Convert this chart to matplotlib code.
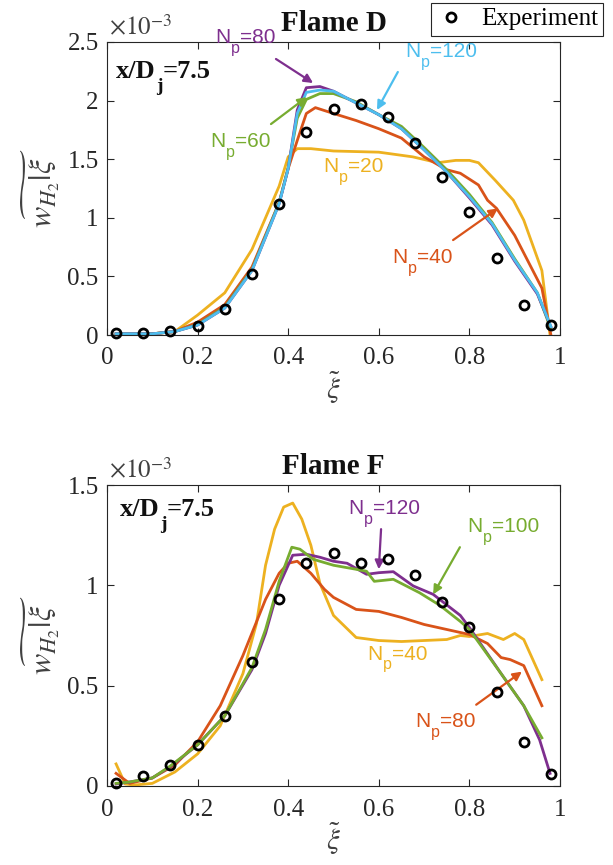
import matplotlib
matplotlib.use("Agg")
import matplotlib.pyplot as plt
from matplotlib.lines import Line2D
from matplotlib.ticker import FuncFormatter

plt.rcParams['font.family'] = ['Liberation Serif', 'DejaVu Serif']
plt.rcParams['mathtext.fontset'] = 'stix'

C_BLUE = '#4DBEEE'
C_PURPLE = '#7E2F8E'
C_GREEN = '#77AC30'
C_RED = '#D95319'
C_YELLOW = '#EDB120'
C_AX = '#262626'
SANS = ['Liberation Sans', 'DejaVu Sans']

# ---------------- Flame D data (units of 1e-3) ----------------
xi_exp = [0.02, 0.08, 0.14, 0.20, 0.26, 0.32, 0.38, 0.44, 0.50,
          0.56, 0.62, 0.68, 0.74, 0.80, 0.86, 0.92, 0.98]
d_exp = [0.02, 0.02, 0.03, 0.08, 0.22, 0.52, 1.12, 1.73, 1.93,
         1.97, 1.86, 1.64, 1.35, 1.05, 0.66, 0.26, 0.085]

d_x_hi = [0.02, 0.10, 0.15, 0.20, 0.26, 0.32, 0.38, 0.40, 0.42, 0.44, 0.47,
          0.50, 0.55, 0.60, 0.65, 0.70, 0.75, 0.80, 0.85, 0.90, 0.95, 0.98]
d_np120 = [0.01, 0.01, 0.03, 0.085, 0.23, 0.55, 1.12, 1.42, 1.89, 2.07, 2.09,
           2.08, 1.98, 1.88, 1.76, 1.58, 1.39, 1.18, 0.95, 0.64, 0.36, 0.07]
d_np80 = [0.01, 0.01, 0.03, 0.085, 0.23, 0.55, 1.12, 1.42, 1.92, 2.11, 2.12,
          2.08, 1.98, 1.88, 1.76, 1.58, 1.39, 1.17, 0.94, 0.63, 0.35, 0.07]
d_np60 = [0.01, 0.01, 0.03, 0.09, 0.24, 0.56, 1.13, 1.43, 1.85, 2.01, 2.06,
          2.06, 1.99, 1.88, 1.78, 1.60, 1.41, 1.20, 0.96, 0.65, 0.36, 0.05]

d_x_np40 = [0.02, 0.10, 0.15, 0.20, 0.26, 0.32, 0.38, 0.40, 0.42, 0.44, 0.46,
            0.50, 0.55, 0.60, 0.65, 0.70, 0.75, 0.78, 0.82, 0.84, 0.86, 0.90,
            0.96, 0.98]
d_np40 = [0.01, 0.01, 0.03, 0.11, 0.26, 0.58, 1.13, 1.42, 1.66, 1.89, 1.94,
          1.89, 1.83, 1.76, 1.68, 1.52, 1.41, 1.38, 1.28, 1.15, 1.08, 0.85,
          0.40, 0.0]

d_x_np20 = [0.02, 0.10, 0.15, 0.20, 0.26, 0.32, 0.38, 0.40, 0.42, 0.45, 0.50,
            0.60, 0.675, 0.73, 0.77, 0.80, 0.82, 0.857, 0.897, 0.92, 0.96, 0.978]
d_np20 = [0.0, 0.01, 0.03, 0.17, 0.36, 0.73, 1.27, 1.52, 1.59, 1.59, 1.57,
          1.56, 1.52, 1.47, 1.49, 1.49, 1.47, 1.32, 1.15, 0.98, 0.55, 0.0]

# ---------------- Flame F data (units of 1e-3) ----------------
f_exp = [0.017, 0.05, 0.105, 0.205, 0.35, 0.62, 0.93, 1.11, 1.16,
         1.11, 1.13, 1.05, 0.917, 0.79, 0.47, 0.217, 0.058]

f_x_np120 = [0.02, 0.05, 0.10, 0.14, 0.20, 0.26, 0.32, 0.35, 0.38, 0.41, 0.44,
             0.47, 0.50, 0.53, 0.573, 0.60, 0.632, 0.676, 0.72, 0.78, 0.80,
             0.87, 0.92, 0.955, 0.978]
f_np120 = [0.01, 0.02, 0.04, 0.097, 0.205, 0.35, 0.58, 0.76, 1.0, 1.15, 1.155,
           1.14, 1.12, 1.11, 1.055, 1.063, 1.068, 0.997, 0.955, 0.85, 0.79,
           0.56, 0.40, 0.23, 0.063]
f_x_np100 = [0.02, 0.05, 0.10, 0.14, 0.20, 0.26, 0.32, 0.35, 0.38, 0.408,
             0.426, 0.455, 0.50, 0.55, 0.573, 0.59, 0.632, 0.69, 0.735, 0.78,
             0.80, 0.87, 0.92, 0.96]
f_np100 = [0.013, 0.02, 0.04, 0.10, 0.205, 0.35, 0.59, 0.78, 1.02, 1.19,
           1.18, 1.13, 1.10, 1.08, 1.07, 1.02, 1.03, 0.963, 0.90, 0.82,
           0.78, 0.56, 0.40, 0.24]
f_x_np80 = [0.02, 0.05, 0.10, 0.15, 0.20, 0.25, 0.30, 0.35, 0.38, 0.40, 0.42,
            0.45, 0.48, 0.50, 0.55, 0.60, 0.65, 0.70, 0.75, 0.80, 0.84, 0.87,
            0.89, 0.92, 0.94, 0.96]
f_np80 = [0.063, 0.013, 0.04, 0.105, 0.22, 0.40, 0.65, 0.93, 1.06, 1.11, 1.12,
          1.06, 0.98, 0.94, 0.88, 0.87, 0.84, 0.805, 0.78, 0.755, 0.71, 0.64,
          0.63, 0.60, 0.50, 0.40]
f_x_np40 = [0.02, 0.04, 0.06, 0.10, 0.15, 0.20, 0.25, 0.30, 0.33, 0.35, 0.37,
            0.39, 0.41, 0.43, 0.45, 0.47, 0.50, 0.55, 0.60, 0.65, 0.70, 0.75,
            0.78, 0.80, 0.84, 0.875, 0.90, 0.92, 0.94, 0.96]
f_np40 = [0.11, 0.01, 0.005, 0.013, 0.07, 0.16, 0.30, 0.56, 0.81, 1.10, 1.28,
          1.39, 1.41, 1.33, 1.20, 1.01, 0.85, 0.74, 0.725, 0.72, 0.725, 0.73,
          0.75, 0.745, 0.76, 0.73, 0.76, 0.73, 0.63, 0.53]

W, H = 613, 865
fig = plt.figure(figsize=(W / 100, H / 100), dpi=100)


def px_axes(l, t, r, b):
    return fig.add_axes([l / W, 1 - b / H, (r - l) / W, (b - t) / H])


def sub_text(ax, x, y, base, sub, rest, size, subsize, dy, transform=None,
             **kw):
    # base text, lowered subscript, then the rest on the base line
    t1 = ax.text(x, y, base, fontsize=size, va='baseline', ha='left',
                 clip_on=False, transform=transform or ax.transData, **kw)
    t2 = ax.annotate(sub, xy=(1, 0), xycoords=t1, xytext=(0.3, dy),
                     textcoords='offset points', fontsize=subsize,
                     va='bottom', ha='left', annotation_clip=False, **kw)
    ax.annotate(rest, xy=(1, 0), xycoords=(t2, t1), xytext=(0.3, 0),
                textcoords='offset points', fontsize=size, va='bottom',
                ha='left', annotation_clip=False, **kw)


def style(ax, ymax, title, xd_pos):
    ax.set_xlim(0, 1)
    ax.set_ylim(0, ymax)
    ax.set_xticks([0, 0.2, 0.4, 0.6, 0.8, 1])
    ax.set_yticks([i * 0.5 for i in range(int(ymax / 0.5) + 1)])
    fmt = FuncFormatter(lambda v, p: '%g' % round(v, 2))
    ax.xaxis.set_major_formatter(fmt)
    ax.yaxis.set_major_formatter(fmt)
    ax.tick_params(direction='in', top=True, right=True, length=5,
                   width=0.8, colors=C_AX, labelsize=18, pad=6)
    ax.tick_params(axis='x', pad=9)
    for s in ax.spines.values():
        s.set_color(C_AX)
        s.set_linewidth(0.8)
    ax.set_title(title, fontsize=21, fontweight='bold', pad=8, color='#111111')
    ax.set_xlabel(r'$\tilde{\xi}$', fontsize=21, color='#404040', labelpad=0)
    ax.set_ylabel(r'$\widetilde{w_{H_2}|\xi}$', fontsize=23, color='#404040',
                  labelpad=4)
    ax.text(0.005, 1.005, r'$\times10^{-3}$', transform=ax.transAxes,
            fontsize=18, color='#404040', ha='left', va='bottom')
    sub_text(ax, xd_pos[0], xd_pos[1], 'x/D', 'j', '=7.5', 19, 14, -8.5,
             transform=ax.transAxes, fontweight='bold', color='#111111')


def label(ax, x, y, txt, c):
    sub_text(ax, x, y, 'N', 'p', '=' + txt, 15, 11.5, -6.3, color=c,
             family=SANS)


def arrow(ax, tail, head, c):
    ax.annotate('', xy=head, xytext=tail,
                arrowprops=dict(arrowstyle='-|>', color=c, lw=1.6,
                                mutation_scale=13, shrinkA=0, shrinkB=0))


lw = 2.0
mk = dict(ls='none', marker='o', ms=6.5, mfc='none', mec='black', mew=2.0,
          zorder=5, clip_on=False)

# ---------------- Flame D ----------------
ax1 = px_axes(107, 42, 560, 335)
ax1.plot(d_x_np20, d_np20, color=C_YELLOW, lw=lw)
ax1.plot(d_x_np40, d_np40, color=C_RED, lw=lw)
ax1.plot(d_x_hi, d_np60, color=C_GREEN, lw=lw)
ax1.plot(d_x_hi, d_np80, color=C_PURPLE, lw=lw)
ax1.plot(d_x_hi, d_np120, color=C_BLUE, lw=lw)
ax1.plot(xi_exp, d_exp, **mk)
style(ax1, 2.5, 'Flame D', (0.02, 0.877))

label(ax1, 0.238, 2.491, '80', C_PURPLE)
arrow(ax1, (0.373, 2.355), (0.455, 2.15), C_PURPLE)
label(ax1, 0.658, 2.372, '120', C_BLUE)
arrow(ax1, (0.642, 2.244), (0.596, 1.92), C_BLUE)
label(ax1, 0.227, 1.604, '60', C_GREEN)
arrow(ax1, (0.362, 1.80), (0.441, 2.03), C_GREEN)
label(ax1, 0.477, 1.391, '20', C_YELLOW)
label(ax1, 0.629, 0.614, '40', C_RED)
arrow(ax1, (0.764, 0.81), (0.863, 1.08), C_RED)

# ---------------- Flame F ----------------
ax2 = px_axes(107, 485, 560, 786)
ax2.plot(f_x_np40, f_np40, color=C_YELLOW, lw=lw)
ax2.plot(f_x_np80, f_np80, color=C_RED, lw=lw)
ax2.plot(f_x_np120, f_np120, color=C_PURPLE, lw=lw)
ax2.plot(f_x_np100, f_np100, color=C_GREEN, lw=lw)
ax2.plot(xi_exp, f_exp, **mk)
style(ax2, 1.5, 'Flame F', (0.029, 0.897))

label(ax2, 0.532, 1.355, '120', C_PURPLE)
arrow(ax2, (0.605, 1.28), (0.60, 1.08), C_PURPLE)
label(ax2, 0.795, 1.265, '100', C_GREEN)
arrow(ax2, (0.779, 1.19), (0.72, 0.955), C_GREEN)
label(ax2, 0.574, 0.63, '40', C_YELLOW)
label(ax2, 0.68, 0.295, '80', C_RED)
arrow(ax2, (0.815, 0.405), (0.916, 0.57), C_RED)

# legend
h = Line2D([], [], ls='none', marker='o', ms=6.5, mfc='none', mec='black',
           mew=2.0)
leg = fig.legend([h], ['Experiment'], loc='upper left',
                 bbox_to_anchor=(431 / W, 1 - 3 / H), fontsize=18,
                 fancybox=False, framealpha=1, edgecolor=C_AX,
                 handlelength=1.2, handletextpad=0.6, borderpad=0.2,
                 borderaxespad=0)
leg.get_frame().set_linewidth(0.8)

fig.savefig('out.png', dpi=100)
